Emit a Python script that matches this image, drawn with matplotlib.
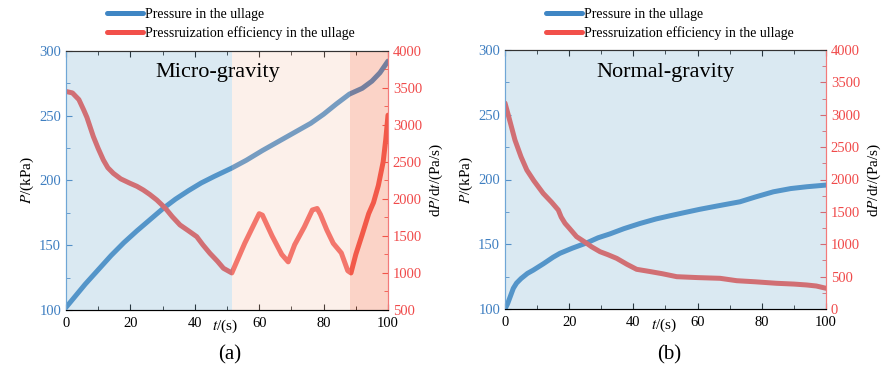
import matplotlib.pyplot as plt
from matplotlib.ticker import MultipleLocator

plt.rcParams['font.family'] = 'Liberation Serif'
plt.rcParams['mathtext.fontset'] = 'stix'

# panel (a) micro-gravity
t_micro_p = [0, 2, 4, 6, 8, 10, 14, 18, 22, 26, 30, 34, 38, 42, 46, 51.5,
             56, 61, 66, 71, 76, 80, 84, 88, 92, 95, 97.5, 100]
p_micro = [102, 108, 114, 120, 125.5, 131, 142, 152, 161, 169.5, 178, 185.5, 192, 198, 203, 209.5,
           215.5, 223, 230, 237, 244, 251, 259, 266.5, 271, 276.5, 283, 292]
t_micro_e = [0, 2, 4, 5.5, 6.5, 8.5, 10, 11.6, 13, 14.7, 17, 19.9, 22, 24, 26, 28.2, 30, 31.3,
             33, 35.4, 38, 40.6, 42.5, 44.7, 47, 48.9, 51.5, 55.5, 60, 61, 64, 67, 69, 71, 74,
             76.5, 78, 79, 81, 83, 85.5, 87.5, 88.5, 90, 92, 94, 95.5, 97, 98.5, 99.3, 100]
e_micro = [3450, 3430, 3340, 3200, 3100, 2840, 2680, 2525, 2420, 2345, 2270, 2210, 2170, 2120,
           2060, 1985, 1910, 1850, 1760, 1648, 1570, 1490, 1380, 1265, 1160, 1063, 1000, 1400,
           1800, 1780, 1500, 1250, 1150, 1380, 1620, 1850, 1870, 1790, 1580, 1400, 1270, 1030,
           1000, 1250, 1520, 1800, 1950, 2180, 2500, 2800, 3130]

# panel (b) normal-gravity
t_normal_p = [0, 0.8, 1.7, 2.6, 3.6, 5, 7, 8.8, 12, 15, 17.1, 21, 25.4, 29, 32.7, 37, 42, 47,
              51.4, 56, 60.7, 66, 73.2, 78, 83.6, 89, 94, 100]
p_normal = [100, 104, 110, 116, 120, 123.5, 127.5, 130, 135, 140, 143, 147, 151, 155, 158, 162,
            166, 169.5, 172, 174.5, 177, 179.5, 182.8, 186.5, 190.5, 193, 194.4, 195.7]
t_normal_e = [0, 1, 3.1, 5, 6.8, 9, 11.9, 14.5, 16.6, 17.5, 18.7, 20, 22.3, 25, 27, 29.6, 32,
              34.8, 38, 41, 45, 49, 53.5, 60, 67, 72.2, 78, 84.6, 90, 94, 97, 100]
e_normal = [3180, 3000, 2610, 2350, 2146, 1980, 1786, 1650, 1529, 1420, 1323, 1250, 1117, 1030,
            960, 885, 840, 782, 690, 613, 580, 545, 499, 485, 474, 437, 420, 397, 385, 371, 355, 320]

blue = '#3f86c4'
red = '#f2504a'
blue_txt = '#3f7fc1'
red_txt = '#f04a4a'


def panel(rect, tp, p, te, e, eylim, spans, title, title_x, letter, letter_x):
    ax = fig.add_axes(rect)
    ax2 = ax.twinx()
    l1, = ax.plot(tp, p, color=blue, lw=3.6, solid_capstyle='round', zorder=2)
    l2, = ax2.plot(te, e, color=red, lw=3.6, solid_capstyle='round', zorder=2)
    # translucent shading drawn over both curves
    for x0, x1, c in spans:
        ax2.axvspan(x0, x1, color=c, alpha=0.3, lw=0, zorder=2.2)
    ax.set_xlim(0, 100)
    ax.set_ylim(100, 300)
    ax2.set_ylim(*eylim)
    ax.xaxis.set_major_locator(MultipleLocator(20))
    ax.xaxis.set_minor_locator(MultipleLocator(10))
    ax.yaxis.set_major_locator(MultipleLocator(50))
    ax.yaxis.set_minor_locator(MultipleLocator(25))
    ax2.yaxis.set_major_locator(MultipleLocator(500))
    ax2.yaxis.set_minor_locator(MultipleLocator(250))
    ax.tick_params(axis='x', which='both', direction='in', top=True, labelsize=10.5, pad=5)
    ax.tick_params(axis='x', which='major', length=4)
    ax.tick_params(axis='x', which='minor', length=3)
    ax.tick_params(axis='y', which='both', direction='in', colors=blue_txt, labelsize=10.5)
    ax.tick_params(axis='y', which='major', length=4)
    ax.tick_params(axis='y', which='minor', length=3)
    ax2.tick_params(axis='y', which='both', direction='in', colors=red_txt, labelsize=10.5)
    ax2.tick_params(axis='y', which='major', length=4)
    ax2.tick_params(axis='y', which='minor', length=3)
    for a in (ax, ax2):
        a.spines['left'].set_color('#6fa6d6')
        a.spines['right'].set_color('#f27a7a')
        a.spines['top'].set_color('#333333')
    ax.set_ylabel('$P$/(kPa)', fontsize=11, labelpad=2)
    ax2.set_ylabel('d$P$/d$t$/(Pa/s)', fontsize=11, labelpad=4)
    ax.annotate('$t$/(s)', xy=(49.5, 0), xycoords=('data', 'axes fraction'),
                xytext=(0, -12), textcoords='offset points', ha='center', va='center',
                fontsize=11)
    ax2.text(title_x, 0.915, title, transform=ax2.transAxes,
             ha='center', va='center', fontsize=16, color='black', zorder=5)
    fig.text(letter_x, 26 / 381, letter, ha='center', va='center', fontsize=15)
    fig.legend([l1, l2], ['Pressure in the ullage', 'Pressruization efficiency in the ullage'],
               loc='upper left', bbox_to_anchor=(rect[0] + 41 / 895, 1 - 8 / 381),
               frameon=False, fontsize=10, borderpad=0, borderaxespad=0,
               handlelength=2.6, handletextpad=0.15, labelspacing=0.35)


fig = plt.figure(figsize=(8.95, 3.81), dpi=100)
panel([66 / 895, 71 / 381, 322 / 895, 259.3 / 381], t_micro_p, p_micro, t_micro_e, e_micro,
      (500, 4000),
      [(0, 51.5, '#87b9d7'), (51.5, 88.2, '#f8d0bc'), (88.2, 100, '#f57048')],
      'Micro-gravity', 0.47, '(a)', 230 / 895)
panel([505 / 895, 72 / 381, 321 / 895, 259 / 381], t_normal_p, p_normal, t_normal_e, e_normal,
      (0, 4000),
      [(0, 100, '#87b9d7')],
      'Normal-gravity', 0.5, '(b)', 669 / 895)

plt.savefig('out.png', dpi=100)
